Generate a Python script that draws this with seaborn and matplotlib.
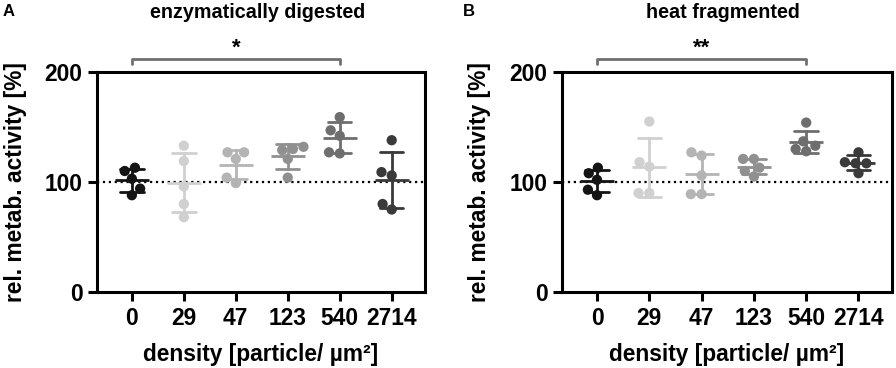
import pandas as pd
import matplotlib
matplotlib.use('Agg')
import matplotlib.pyplot as plt
import seaborn as sns

densities = ['0', '29', '47', '123', '540', '2714']
colors = ['#141414', '#d0d0d0', '#b4b4b4', '#909090', '#6e6e6e', '#3a3a3a']

# rel. metabolic activity [%], 5 replicates per density
digested = {
    '0': [113, 110, 103, 94, 88],
    '29': [133, 119, 96, 80, 68],
    '47': [127, 127, 121, 104, 99],
    '123': [132, 130, 129, 121, 104],
    '540': [159, 147, 142, 127, 126],
    '2714': [138, 109, 106, 80, 75],
}
fragmented = {
    '0': [113, 108, 102, 93, 88],
    '29': [155, 118, 114, 90, 90],
    '47': [127, 124, 106, 89, 89],
    '123': [121, 121, 113, 110, 105],
    '540': [154, 137, 133, 130, 128],
    '2714': [127, 118, 117, 117, 108],
}
titles = ['enzymatically digested', 'heat fragmented']
panel_letters = ['A', 'B']
stars = ['*', '**']
bracket_from, bracket_to = 0, 4


def to_frame(d):
    rows = []
    for k in densities:
        for v in d[k]:
            rows.append({'density': k, 'activity': v})
    return pd.DataFrame(rows)


sns.set_style('ticks')
plt.rcParams['font.family'] = ['Liberation Sans', 'DejaVu Sans']
plt.rcParams['font.weight'] = 'bold'
plt.rcParams['axes.labelweight'] = 'bold'
plt.rcParams['axes.linewidth'] = 2.2
plt.rcParams['xtick.major.width'] = 2.2
plt.rcParams['ytick.major.width'] = 2.2
plt.rcParams['xtick.major.size'] = 6.5
plt.rcParams['ytick.major.size'] = 6.5
plt.rcParams['axes.edgecolor'] = 'black'
plt.rcParams['axes.labelcolor'] = 'black'
plt.rcParams['text.color'] = 'black'
plt.rcParams['xtick.color'] = 'black'
plt.rcParams['ytick.color'] = 'black'

fig = plt.figure(figsize=(8.96, 3.68), dpi=100)
positions = [[0.1083, 0.2065, 0.366, 0.5978], [0.6272, 0.2065, 0.3683, 0.5978]]
letter_x = [3, 463]

for i, d in enumerate([digested, fragmented]):
    ax = fig.add_axes(positions[i])
    df = to_frame(d)
    ax.axhline(100, color='black', ls=':', lw=1.6, zorder=0)
    sns.swarmplot(data=df, x='density', y='activity', hue='density', order=densities,
                  hue_order=densities, palette=colors, size=7.4, legend=False, ax=ax, zorder=2)
    sns.pointplot(data=df, x='density', y='activity', hue='density', order=densities,
                  hue_order=densities, palette=colors, errorbar='sd', capsize=0.45,
                  markers='_', markersize=25, markeredgewidth=2, linestyle='none',
                  err_kws={'linewidth': 2}, legend=False, ax=ax)
    ax.set_xlim(-0.67, 5.64)
    ax.set_ylim(0, 200)
    ax.set_yticks([0, 100, 200])
    ax.tick_params(labelsize=16.4, pad=4)
    ax.set_xlabel('density [particle/ µm²]', fontsize=16.4)
    ax.set_ylabel('rel. metab. activity [%]', fontsize=16.4)
    ax.yaxis.set_label_coords(-0.215, 0.5)
    ax.xaxis.set_label_coords(0.5, -0.23)
    for s in ['top', 'right']:
        ax.spines[s].set_visible(True)
    # significance bracket
    ax.plot([bracket_from, bracket_from, bracket_to, bracket_to], [207, 212, 212, 207],
            color='#707070', lw=2, clip_on=False)
    ax.text((bracket_from + bracket_to) / 2, 222, stars[i], ha='center', va='center',
            fontsize=16, clip_on=False)
    bb = positions[i]
    fig.text(bb[0] + bb[2] / 2 - 0.004, 1 - 12 / 368, titles[i], ha='center', va='center',
             fontsize=14.2)
    fig.text(letter_x[i] / 896, 1 - 12 / 368, panel_letters[i], ha='left',
             va='center', fontsize=12)

fig.savefig('out.png', dpi=100)
